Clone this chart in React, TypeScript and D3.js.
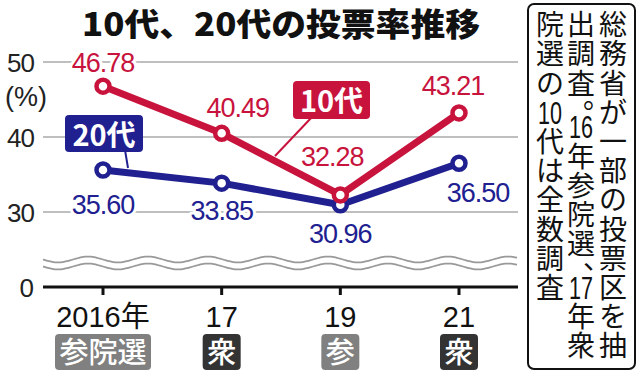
import * as d3 from "d3";
import React from "react";

// data
const categories = ["2016年", "17", "19", "21"];
const elections = ["参院選", "衆", "参", "衆"];
const teens = [46.78, 40.49, 32.28, 43.21];
const twenties = [35.6, 33.85, 30.96, 36.5];
const yTicks = [50, 40, 30];
const noteColumns = [
  ["総", "務", "省", "が", "一", "部", "の", "投", "票", "区", "を", "抽"],
  ["出", "調", "査", "。", "16", "年", "参", "院", "選", "、", "17", "年", "衆"],
  ["院", "選", "の", "10", "代", "は", "全", "数", "調", "査"],
];

// label placement (layout, not data)
const teenOffsets = [[0, -14], [16, -16], [-8, -29], [-6, -18]];
const twentyOffsets = [[0, 44], [0, 37], [0, 38], [19, 39]];

const W = 640;
const H = 374;
const RED = "#c8133d";
const BLUE = "#202090";
const NUM = "'Liberation Sans', Arial, sans-serif";
const JP = "'Noto Sans CJK JP', sans-serif";

const App = () => {
  const x = d3.scalePoint<string>().domain(categories).range([103, 459]);
  const y = d3.scaleLinear().domain([30, 50]).range([212, 62]);
  const yZero = 287;
  const left = 43;
  const right = 518;
  const fmt = d3.format(".2f");

  const line = d3
    .line<number>()
    .x((_, i) => x(categories[i]) as number)
    .y((d) => y(d));

  // squiggle marking the cut in the value axis
  const wave = (cy: number) =>
    d3
      .line<number>()
      .x((d) => d)
      .y((d) => cy + 3 * Math.sin(((d - left) / 60) * 2 * Math.PI))
      .curve(d3.curveBasis)(d3.range(left, right + 1, 3));

  const series = [
    { values: twenties, color: BLUE, offsets: twentyOffsets },
    { values: teens, color: RED, offsets: teenOffsets },
  ];

  // vertical note layout
  const pitch = 29.2;
  const colX = [613, 581, 550];
  const noteCells = noteColumns.flatMap((col, ci) => {
    let top = 10;
    return col.map((tok) => {
      const punct = tok === "。" || tok === "、";
      const h = punct ? pitch / 2 : pitch;
      const cell = { tok, cx: colX[ci], top, h, punct };
      top += h;
      return cell;
    });
  });

  return (
    <svg width={W} height={H} style={{ position: "absolute", left: 0, top: 0, background: "#fff" }}>
      <rect width={W} height={H} fill="#fff" />
      {/* title */}
      <text x={82} y={36} fontFamily={JP} fontWeight={900} fontSize={32} textLength={398}
        lengthAdjust="spacingAndGlyphs" fill="#111">
        10代、20代の投票率推移
      </text>

      {/* grid */}
      {yTicks.map((t) => (
        <g key={t}>
          <line x1={left} x2={right} y1={y(t)} y2={y(t)} stroke="#aaa" strokeWidth={1.5} />
          <text x={34} y={y(t) + 9.5} textAnchor="end" fontFamily={NUM} fontSize={26}
            letterSpacing={-1} fill="#222">{t}</text>
        </g>
      ))}
      <text x={26} y={106} textAnchor="middle" fontFamily={NUM} fontSize={27} fill="#222">(%)</text>

      {/* broken axis */}
      {[259.5, 266.5].map((cy) => (
        <path key={cy} d={wave(cy) as string} fill="none" stroke="#999" strokeWidth={1.8} />
      ))}
      <line x1={left} x2={right} y1={yZero} y2={yZero} stroke="#111" strokeWidth={3} />
      <text x={34} y={yZero + 9.5} textAnchor="end" fontFamily={NUM} fontSize={26} fill="#222">0</text>
      {categories.map((c, i) => {
        const cx = x(c) as number;
        const wide = elections[i].length * 29 + 9;
        const dark = elections[i] === "衆";
        return (
          <g key={c}>
            <line x1={cx} x2={cx} y1={yZero} y2={yZero + 8} stroke="#111" strokeWidth={3} />
            <text x={cx} y={327} textAnchor="middle" fontFamily={`${NUM}, ${JP}`} fontSize={29}
              fill="#111">{c}</text>
            <rect x={cx - wide / 2} y={334} width={wide} height={36} rx={4}
              fill={dark ? "#333" : "#808080"} />
            <text x={cx} y={363} textAnchor="middle" fontFamily={JP} fontWeight={500} fontSize={29}
              fill="#fff">{elections[i]}</text>
          </g>
        );
      })}

      {/* value labels */}
      {series.map((s) =>
        s.values.map((v, i) => (
          <text key={s.color + i} x={(x(categories[i]) as number) + s.offsets[i][0]}
            y={y(v) + s.offsets[i][1]} textAnchor="middle" fontFamily={NUM} fontSize={27}
            letterSpacing={-1} fill={s.color} stroke="#fff" strokeWidth={6}
            paintOrder="stroke" strokeLinejoin="round">
            {fmt(v)}
          </text>
        ))
      )}

      {/* lines */}
      {series.map((s) => (
        <g key={s.color}>
          <path d={line(s.values) as string} fill="none" stroke={s.color} strokeWidth={7}
            strokeLinejoin="round" />
          {s.values.map((v, i) => (
            <circle key={i} cx={x(categories[i])} cy={y(v)} r={6.5} fill="#fff"
              stroke={s.color} strokeWidth={4.5} />
          ))}
        </g>
      ))}

      {/* legend tags */}
      <line x1={125} y1={150} x2={128} y2={168} stroke={BLUE} strokeWidth={2} />
      <rect x={65} y={115} width={78} height={37} rx={4} fill={BLUE} />
      <text x={104} y={146} textAnchor="middle" fontFamily={JP} fontWeight={700} fontSize={29}
        fill="#fff">20代</text>
      <line x1={312} y1={117} x2={275} y2={156} stroke={RED} strokeWidth={2} />
      <rect x={293} y={81} width={77} height={38} rx={4} fill={RED} />
      <text x={331.5} y={112} textAnchor="middle" fontFamily={JP} fontWeight={700} fontSize={29}
        fill="#fff">10代</text>

      {/* note box */}
      <rect x={528} y={4} width={107} height={365} rx={6} fill="#fff" stroke="#111" strokeWidth={2} />
      {noteCells.map((c, i) => {
        if (c.punct) {
          return (
            <text key={i} x={c.cx + 2} y={c.top + c.h / 2 + 3} fontFamily={JP} fontSize={28}
              fill="#111">{c.tok}</text>
          );
        }
        if (/^\d+$/.test(c.tok)) {
          return (
            <text key={i} x={c.cx} y={c.top + c.h / 2 + 11.5} textAnchor="middle" fontFamily={NUM}
              fontSize={32} textLength={24} lengthAdjust="spacingAndGlyphs" fill="#111">{c.tok}</text>
          );
        }
        return (
          <text key={i} x={c.cx} y={c.top + c.h / 2 + 10.6} textAnchor="middle" fontFamily={JP}
            fontSize={28} fill="#111">{c.tok}</text>
        );
      })}
    </svg>
  );
};

export default App;
